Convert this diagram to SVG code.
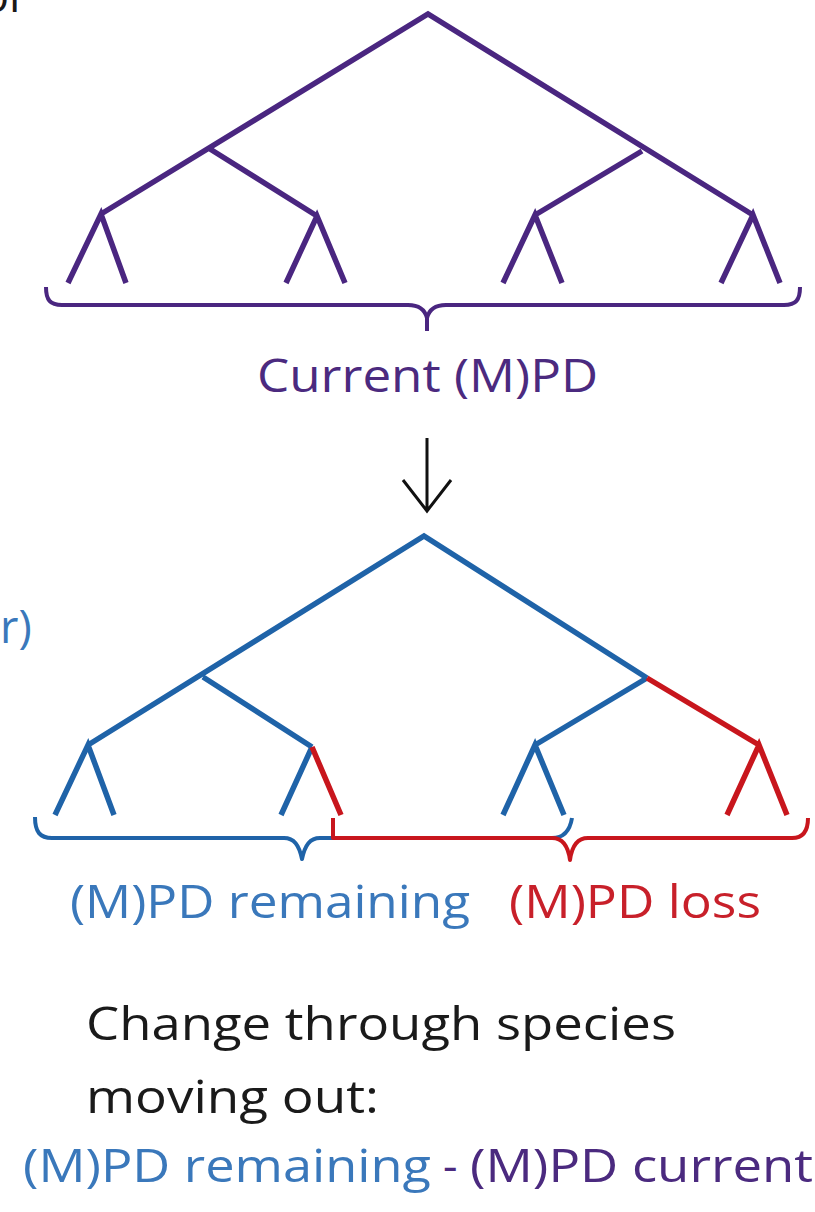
<svg xmlns="http://www.w3.org/2000/svg" width="815" height="1212" viewBox="0 0 815 1212">
<style>
.pur{stroke:#4a2680;fill:none;stroke-width:5.5}
.blu{stroke:#1f63a8;fill:none;stroke-width:5.5}
.red{stroke:#c8161d;fill:none;stroke-width:5.5}
.br{stroke-width:4;stroke-linejoin:round}
.t{font-family:"Open Sans","Noto Sans","Liberation Sans",sans-serif;font-size:45px}
.tp{fill:#4b2a7f}
.tb{fill:#3a78bb}
.tr{fill:#c8202a}
.tk{fill:#1a1a1a}
</style>
<rect width="815" height="1212" fill="#ffffff"/>
<g id="fragments">
<text class="t tk" x="-18" y="12">or</text>
<text class="t tb" x="0" y="643">r)</text>
</g>
<g id="tree-current">
<path class="pur" d="M101,214 L428,14 L753,215 M210,149 L317,216 M642,151 L535,215 M68,283 L101,214 L126,283 M286,283 L317,216 L345,283 M503,283 L535,215 L562,283 M721,283 L753,215 L780,283"/>
</g>
<g id="brace-current">
<path class="pur br" d="M46,287 C46,300 50,305 62,305 L408,305 C420,305 425,310 427,318 C429,310 434,305 446,305 L784,305 C796,305 800,300 800,287 M427,316 L427,331"/>
</g>
<g id="label-current">
<text class="t tp" x="257" y="392" textLength="341" lengthAdjust="spacingAndGlyphs">Current (M)PD</text>
</g>
<g id="connectors">
<path d="M427,438 L427,510 M403,480 L427,511 L451,480" stroke="#111" stroke-width="3" fill="none"/>
</g>
<g id="tree-after">
<path class="blu" d="M88,745 L424,536 L647,678 M203,677 L312,747 M647,678 L535,745 M55,815 L88,745 L114,815 M281,815 L312,747 M503,815 L535,745 L564,815"/>
<path class="red" d="M647,678 L759,745 M727,815 L759,745 L787,815 M312,747 L341,815"/>
</g>
<g id="brace-remaining">
<path class="blu br" d="M35,817 C35,832 40,838 52,838 L284,838 C294,838 299,845 302,859 C305,845 310,838 320,838 L552,838 C564,838 570,830 572,818"/>
</g>
<g id="brace-loss">
<path class="red br" d="M333,818 L333,838 L552,838 C562,838 568,845 570,860 C572,845 578,838 588,838 L792,838 C802,838 808,832 808,818"/>
</g>
<g id="labels-after">
<text class="t tb" x="70" y="918" textLength="400" lengthAdjust="spacingAndGlyphs">(M)PD remaining</text>
<text class="t tr" x="509" y="918" textLength="252" lengthAdjust="spacingAndGlyphs">(M)PD loss</text>
</g>
<g id="caption">
<text class="t tk" x="86" y="1040" textLength="590" lengthAdjust="spacingAndGlyphs">Change through species</text>
<text class="t tk" x="86" y="1113" textLength="293" lengthAdjust="spacingAndGlyphs">moving out:</text>
<text class="t tb" x="23" y="1182" textLength="408" lengthAdjust="spacingAndGlyphs">(M)PD remaining</text>
<text class="t tp" x="443" y="1182">-</text>
<text class="t tp" x="470" y="1182" textLength="343" lengthAdjust="spacingAndGlyphs">(M)PD current</text>
</g>
</svg>
